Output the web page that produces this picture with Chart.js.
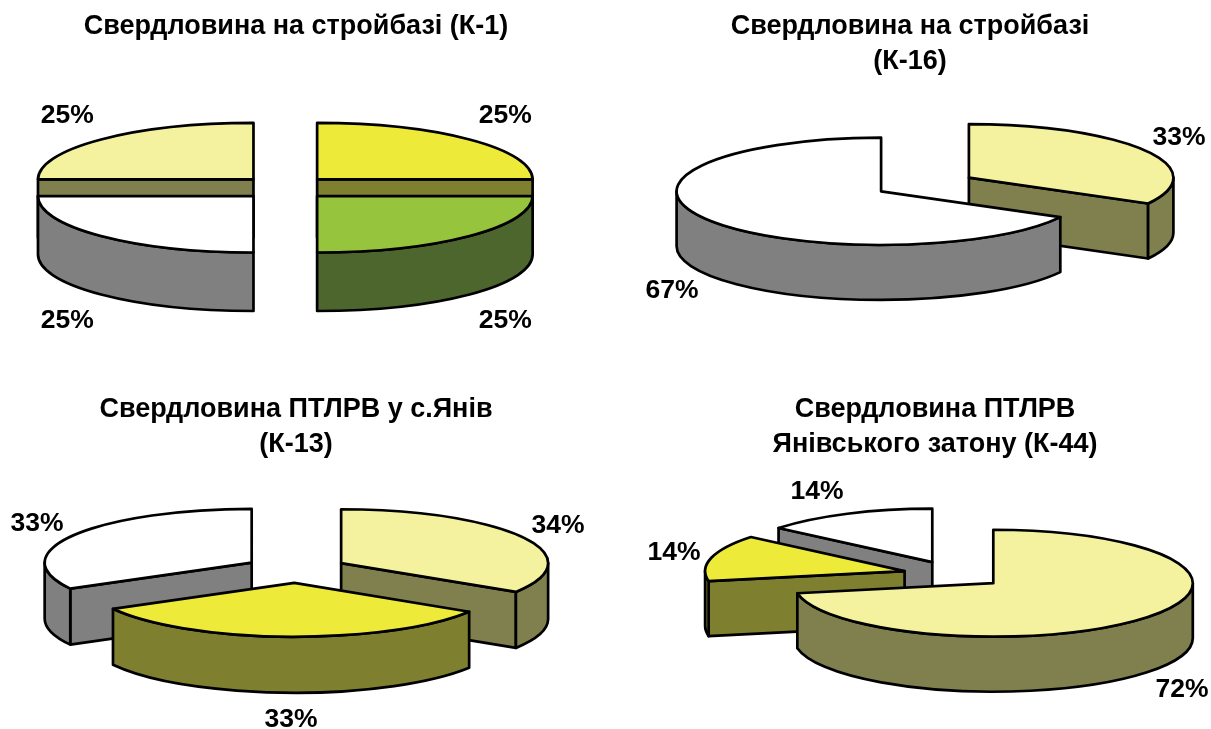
<!DOCTYPE html>
<html><head><meta charset="utf-8">
<style>html,body{margin:0;padding:0;background:#fff;width:1211px;height:729px;overflow:hidden}canvas{position:absolute;display:block}</style>
<script src="https://cdn.jsdelivr.net/npm/chart.js@4"></script>
</head><body>
<script>
// ---- data ----
const titleK1 = ['Свердловина на стройбазі (К-1)'];
const valuesK1 = [25, 25, 25, 25];
const titleK16 = ['Свердловина на стройбазі', '(К-16)'];
const valuesK16 = [33, 67];
const titleK13 = ['Свердловина ПТЛРВ у с.Янів', '(К-13)'];
const valuesK13 = [34, 33, 33];
const titleK44 = ['Свердловина ПТЛРВ', 'Янівського затону (К-44)'];
const valuesK44 = [72, 14, 14];
const labelsK1 = ['a', 'b', 'c', 'd'];
const labelsK16 = ['a', 'b'];
const labelsK13 = ['a', 'b', 'c'];
const labelsK44 = ['a', 'b', 'c'];

// ---- styles ----
const LIGHT = '#F4F29E', BRIGHT = '#EEEA3A', WHITE = '#FFFFFF', GREEN = '#96C43C';
const WALL = {[LIGHT]: '#80804F', [BRIGHT]: '#7F7F30', [WHITE]: '#808080', [GREEN]: '#4C662E'};
const FONT = '"Liberation Sans", Arial, sans-serif';
const TITLE_SIZE = 27, TITLE_LH = 1.3, LABEL_SIZE = 26.5;

const panels = [
  {title: titleK1, labels: labelsK1, values: valuesK1, colors: [BRIGHT, GREEN, WHITE, LIGHT],
   box: [0, 0, 592, 365], centre: [285.3, 187.7], radius: 215.5, k: 0.262, depth: 58.5, explode: 45, titleTop: 9,
   labelAt: [[220,-72],[220,132.5],[-218,132.5],[-218,-72]]},
  {title: titleK16, labels: labelsK16, values: valuesK16, colors: [LIGHT, WHITE],
   box: [610, 0, 600, 365], centre: [925, 184.5], radius: 204.5, k: 0.262, depth: 55, explode: 51, titleTop: 9,
   labelAt: [[254,-47],[-253,106]]},
  {title: titleK13, labels: labelsK13, values: valuesK13, colors: [LIGHT, BRIGHT, WHITE],
   box: [0, 365, 592, 364], centre: [296, 569.5], radius: 207, k: 0.26, depth: 56, explode: 51.5, titleTop: 27,
   labelAt: [[262,-43.5],[-5,150.5],[-259,-45.5]]},
  {title: titleK44, labels: labelsK44, values: valuesK44, colors: [LIGHT, BRIGHT, WHITE],
   box: [640, 365, 590, 364], centre: [954, 574.5], radius: 199.5, k: 0.268, depth: 55, explode: 51, titleTop: 27,
   labelAt: [[228,115.5],[-280,-21.5],[-137,-82.5]]}
];

const pie3d = {
  id: 'pie3d',
  beforeDatasetDraw(chart, args, p) {
    const ctx = chart.ctx, arcs = chart.getDatasetMeta(0).data;
    const geo = arcs.map(arc => {
      const mid = (arc.startAngle + arc.endAngle) / 2;
      return {arc, s: arc.startAngle, e: arc.endAngle, R: arc.outerRadius,
        cx: arc.x + p.panX + Math.cos(mid) * p.explode,
        cy: arc.y + Math.sin(mid) * p.explode * p.k,
        fill: arc.options.backgroundColor};
    }).sort((a, b) => a.cy - b.cy);

    const pen = () => { ctx.lineWidth = p.line; ctx.strokeStyle = '#000'; ctx.lineJoin = 'round'; };
    for (const g of geo) {
      ctx.save();
      pen();
      ctx.fillStyle = WALL[g.fill] || g.fill;
      const ry = g.R * p.k, d = p.depth;
      const cut = a => {
        const x = g.cx + g.R * Math.cos(a), y = g.cy + ry * Math.sin(a);
        ctx.beginPath();
        ctx.moveTo(g.cx, g.cy); ctx.lineTo(x, y); ctx.lineTo(x, y + d); ctx.lineTo(g.cx, g.cy + d);
        ctx.closePath(); ctx.fill(); ctx.stroke();
      };
      if (Math.sin(g.s - Math.PI / 2) > 1e-6) cut(g.s);
      if (Math.sin(g.e + Math.PI / 2) > 1e-6) cut(g.e);
      for (const t of [0, 2 * Math.PI, -2 * Math.PI]) {
        const a0 = Math.max(g.s, t), a1 = Math.min(g.e, t + Math.PI);
        if (a1 - a0 > 1e-6) {
          ctx.beginPath();
          ctx.ellipse(g.cx, g.cy, g.R, ry, 0, a0, a1);
          ctx.ellipse(g.cx, g.cy + d, g.R, ry, 0, a1, a0, true);
          ctx.closePath(); ctx.fill(); ctx.stroke();
        }
      }
      ctx.restore();
    }
    // top faces: the library's own arc elements, squashed and moved out from the centre
    for (const g of geo) {
      ctx.save();
      ctx.translate(g.cx, g.cy); ctx.scale(1, p.k); ctx.translate(-g.arc.x, -g.arc.y);
      g.arc.draw(ctx);
      ctx.restore();
      ctx.save();
      pen();
      ctx.beginPath();
      ctx.moveTo(g.cx, g.cy);
      ctx.ellipse(g.cx, g.cy, g.R, g.R * p.k, 0, g.s, g.e);
      ctx.closePath(); ctx.stroke();
      ctx.restore();
    }
    ctx.save();
    ctx.fillStyle = '#000'; ctx.font = 'bold ' + LABEL_SIZE + 'px ' + FONT;
    ctx.textAlign = 'center'; ctx.textBaseline = 'middle';
    const m = arcs[0];
    chart.data.datasets[0].data.forEach((v, i) => {
      const at = p.labelAt[i];
      ctx.fillText(v + '%', m.x + p.panX + at[0], m.y + at[1]);
    });
    ctx.restore();
    return false;
  }
};

for (const p of panels) {
  const [left, top, w, h] = p.box;
  const cv = document.createElement('canvas');
  cv.width = w; cv.height = h;
  cv.style.left = left + 'px'; cv.style.top = top + 'px';
  cv.style.width = w + 'px'; cv.style.height = h + 'px';
  document.body.appendChild(cv);
  const titleH = p.titleTop + p.title.length * TITLE_SIZE * TITLE_LH;
  // chart area centre sits on the pie centre: padding.bottom balances the title block
  const padBottom = h + titleH - 2 * (p.centre[1] - top);
  new Chart(cv, {
    type: 'pie',
    data: {labels: p.labels, datasets: [{data: p.values, backgroundColor: p.colors, borderWidth: 0,
      radius: p.radius, clip: false}]},
    plugins: [pie3d],
    options: {
      responsive: false, animation: false, events: [],
      layout: {padding: {left: 0, right: 0, top: 0, bottom: padBottom}},
      plugins: {
        legend: {display: false}, tooltip: {enabled: false},
        title: {display: true, text: p.title, color: '#000', fullSize: true,
          padding: {top: p.titleTop, bottom: 0},
          font: {family: FONT, size: TITLE_SIZE, weight: 'bold', lineHeight: TITLE_LH}},
        pie3d: {k: p.k, depth: p.depth, line: 2.7, explode: p.explode, labelAt: p.labelAt,
          panX: p.centre[0] - (left + w / 2)}
      }
    }
  });
}
</script>
</body></html>
